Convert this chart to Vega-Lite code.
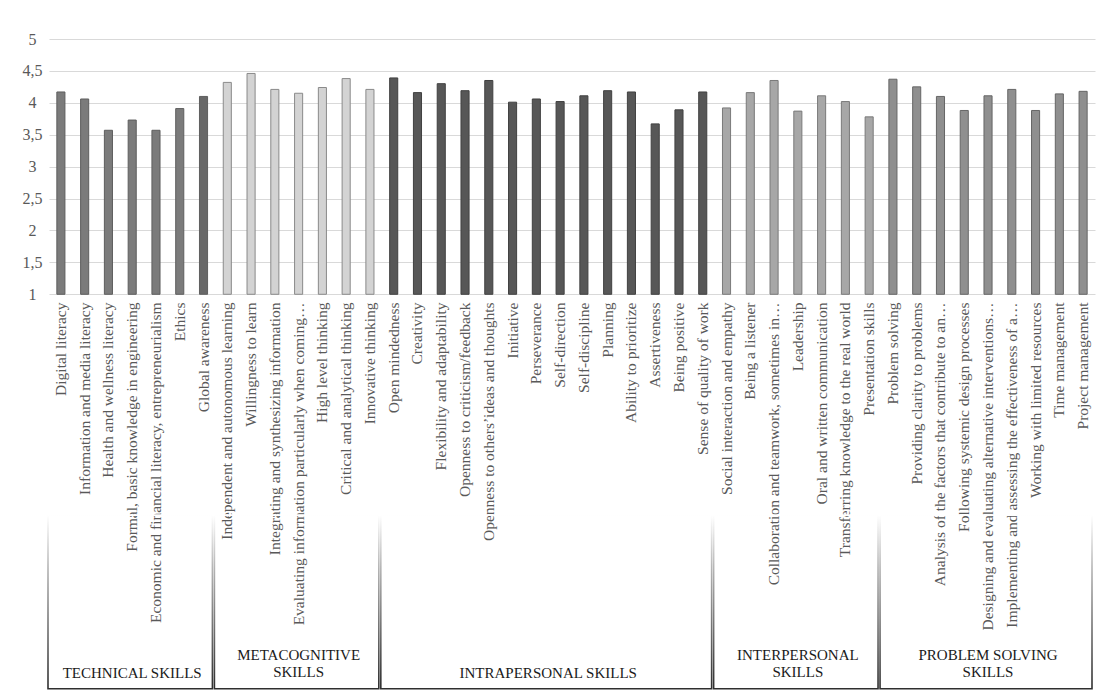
{
  "$schema": "https://vega.github.io/schema/vega-lite/v6.json",
  "width": 1046,
  "height": 651,
  "autosize": {"type": "none"},
  "padding": {"left": 49, "top": 39, "right": 3, "bottom": 4},
  "background": "#ffffff",
  "config": {
    "view": {"stroke": null},
    "font": "Liberation Serif",
    "axis": {"labelFont": "Liberation Serif", "labelColor": "#595959", "title": null, "domain": false, "ticks": false},
    "text": {"font": "Liberation Serif"}
  },
  "datasets": {
    "skills": [
      {"skill": "Digital literacy", "group": "Technical", "value": 4.17},
      {"skill": "Information and media literacy", "group": "Technical", "value": 4.06},
      {"skill": "Health and wellness literacy", "group": "Technical", "value": 3.57},
      {"skill": "Formal, basic knowledge in engineering", "group": "Technical", "value": 3.73},
      {"skill": "Economic and financial literacy, entrepreneurialism", "group": "Technical", "value": 3.57},
      {"skill": "Ethics", "group": "Technical", "value": 3.91},
      {"skill": "Global awareness", "group": "Technical", "value": 4.10},
      {"skill": "Independent and autonomous learning", "group": "Metacognitive", "value": 4.32},
      {"skill": "Willingness to learn", "group": "Metacognitive", "value": 4.46},
      {"skill": "Integrating and synthesizing information", "group": "Metacognitive", "value": 4.21},
      {"skill": "Evaluating information particularly when coming…", "group": "Metacognitive", "value": 4.15},
      {"skill": "High level thinking", "group": "Metacognitive", "value": 4.24},
      {"skill": "Critical and analytical thinking", "group": "Metacognitive", "value": 4.38},
      {"skill": "Innovative thinking", "group": "Metacognitive", "value": 4.21},
      {"skill": "Open mindedness", "group": "Intrapersonal", "value": 4.39},
      {"skill": "Creativity", "group": "Intrapersonal", "value": 4.16},
      {"skill": "Flexibility and adaptability", "group": "Intrapersonal", "value": 4.30},
      {"skill": "Openness to criticism/feedback", "group": "Intrapersonal", "value": 4.19},
      {"skill": "Openness to others’ideas and thoughts", "group": "Intrapersonal", "value": 4.35},
      {"skill": "Initiative", "group": "Intrapersonal", "value": 4.01},
      {"skill": "Perseverance", "group": "Intrapersonal", "value": 4.06},
      {"skill": "Self-direction", "group": "Intrapersonal", "value": 4.02},
      {"skill": "Self-discipline", "group": "Intrapersonal", "value": 4.11},
      {"skill": "Planning", "group": "Intrapersonal", "value": 4.19},
      {"skill": "Ability to prioritize", "group": "Intrapersonal", "value": 4.17},
      {"skill": "Assertiveness", "group": "Intrapersonal", "value": 3.67},
      {"skill": "Being positive", "group": "Intrapersonal", "value": 3.89},
      {"skill": "Sense of quality of work", "group": "Intrapersonal", "value": 4.17},
      {"skill": "Social interaction and empathy", "group": "Interpersonal", "value": 3.92},
      {"skill": "Being a listener", "group": "Interpersonal", "value": 4.16},
      {"skill": "Collaboration and teamwork, sometimes in…", "group": "Interpersonal", "value": 4.35},
      {"skill": "Leadership", "group": "Interpersonal", "value": 3.87},
      {"skill": "Oral and written communication", "group": "Interpersonal", "value": 4.11},
      {"skill": "Transferring knowledge to the real world", "group": "Interpersonal", "value": 4.02},
      {"skill": "Presentation skills", "group": "Interpersonal", "value": 3.78},
      {"skill": "Problem solving", "group": "Problem solving", "value": 4.37},
      {"skill": "Providing clarity to problems", "group": "Problem solving", "value": 4.25},
      {"skill": "Analysis of the factors that contribute to an…", "group": "Problem solving", "value": 4.10},
      {"skill": "Following systemic design processes", "group": "Problem solving", "value": 3.88},
      {"skill": "Designing and evaluating alternative interventions…", "group": "Problem solving", "value": 4.11},
      {"skill": "Implementing and assessing the effectiveness of a…", "group": "Problem solving", "value": 4.21},
      {"skill": "Working with limited resources", "group": "Problem solving", "value": 3.88},
      {"skill": "Time management", "group": "Problem solving", "value": 4.14},
      {"skill": "Project management", "group": "Problem solving", "value": 4.18}
    ],
    "groups": [
      {"name": "TECHNICAL SKILLS", "label": ["TECHNICAL SKILLS"], "first": "Digital literacy", "last": "Global awareness", "mid": "Formal, basic knowledge in engineering"},
      {"name": "METACOGNITIVE SKILLS", "label": ["METACOGNITIVE", "SKILLS"], "first": "Independent and autonomous learning", "last": "Innovative thinking", "mid": "Evaluating information particularly when coming…"},
      {"name": "INTRAPERSONAL SKILLS", "label": ["INTRAPERSONAL SKILLS"], "first": "Open mindedness", "last": "Sense of quality of work", "mid": "Perseverance"},
      {"name": "INTERPERSONAL SKILLS", "label": ["INTERPERSONAL", "SKILLS"], "first": "Social interaction and empathy", "last": "Presentation skills", "mid": "Leadership"},
      {"name": "PROBLEM SOLVING SKILLS", "label": ["PROBLEM SOLVING", "SKILLS"], "first": "Problem solving", "last": "Project management", "mid": "Designing and evaluating alternative interventions…"}
    ]
  },
  "layer": [
    {
      "data": {"name": "skills"},
      "mark": {"type": "bar", "width": {"band": 0.34}, "strokeWidth": 1},
      "encoding": {
        "x": {
          "field": "skill",
          "type": "nominal",
          "sort": null,
          "scale": {
            "paddingInner": 0,
            "paddingOuter": 0,
            "domain": [
              "Digital literacy", "Information and media literacy", "Health and wellness literacy", "Formal, basic knowledge in engineering", "Economic and financial literacy, entrepreneurialism", "Ethics", "Global awareness",
              "Independent and autonomous learning", "Willingness to learn", "Integrating and synthesizing information", "Evaluating information particularly when coming…", "High level thinking", "Critical and analytical thinking", "Innovative thinking",
              "Open mindedness", "Creativity", "Flexibility and adaptability", "Openness to criticism/feedback", "Openness to others’ideas and thoughts", "Initiative", "Perseverance", "Self-direction", "Self-discipline", "Planning", "Ability to prioritize", "Assertiveness", "Being positive", "Sense of quality of work",
              "Social interaction and empathy", "Being a listener", "Collaboration and teamwork, sometimes in…", "Leadership", "Oral and written communication", "Transferring knowledge to the real world", "Presentation skills",
              "Problem solving", "Providing clarity to problems", "Analysis of the factors that contribute to an…", "Following systemic design processes", "Designing and evaluating alternative interventions…", "Implementing and assessing the effectiveness of a…", "Working with limited resources", "Time management", "Project management"
            ]
          },
          "axis": {
            "title": null,
            "orient": "bottom",
            "offset": -396,
            "domain": false,
            "ticks": false,
            "grid": false,
            "labelAngle": -90,
            "labelAlign": "right",
            "labelBaseline": "middle",
            "labelPadding": 8,
            "labelFont": "Liberation Serif",
            "labelFontSize": 15.5,
            "labelColor": "#595959",
            "labelLimit": 400,
            "labelOverlap": false,
            "labelBound": false
          }
        },
        "y": {
          "field": "value",
          "type": "quantitative",
          "scale": {"domain": [-5.2, 5], "nice": false, "zero": false},
          "axis": {
            "title": null,
            "values": [1, 1.5, 2, 2.5, 3, 3.5, 4, 4.5, 5],
            "labelExpr": "replace(format(datum.value, '~g'), '.', ',')",
            "domain": false,
            "ticks": false,
            "grid": true,
            "gridColor": "#d9d9d9",
            "gridWidth": 1.2,
            "labelAlign": "center",
            "labelPadding": 17,
            "labelFont": "Liberation Serif",
            "labelFontSize": 16,
            "labelColor": "#595959"
          }
        },
        "y2": {"datum": 1},
        "color": {
          "condition": {"test": "datum.skill === 'Global awareness'", "value": "#686868"},
          "field": "group",
          "type": "nominal",
          "scale": {
            "domain": ["Technical", "Metacognitive", "Intrapersonal", "Interpersonal", "Problem solving"],
            "range": ["#7b7b7b", "#d3d3d3", "#575757", "#a7a7a7", "#8f8f8f"]
          },
          "legend": null
        },
        "stroke": {
          "field": "group",
          "type": "nominal",
          "scale": {
            "domain": ["Technical", "Metacognitive", "Intrapersonal", "Interpersonal", "Problem solving"],
            "range": ["#5e5e5e", "#8a8a8a", "#404040", "#7a7a7a", "#666666"]
          },
          "legend": null
        }
      }
    },
    {
      "data": {"name": "groups"},
      "mark": {
        "type": "rect",
        "filled": false,
        "fill": null,
        "strokeWidth": 1.6,
        "xOffset": -1,
        "x2Offset": -3,
        "stroke": {
          "gradient": "linear",
          "x1": 0, "y1": 0, "x2": 0, "y2": 1,
          "stops": [
            {"offset": 0, "color": "#ffffff"},
            {"offset": 0.3, "color": "#b5b5b5"},
            {"offset": 1, "color": "#2e2e2e"}
          ]
        }
      },
      "encoding": {
        "x": {"field": "first", "type": "nominal", "bandPosition": 0},
        "x2": {"field": "last", "bandPosition": 1},
        "y": {"datum": -2.46, "type": "quantitative"},
        "y2": {"datum": -5.18}
      }
    },
    {
      "data": {"name": "groups"},
      "transform": [{"filter": "datum.name === 'TECHNICAL SKILLS'"}],
      "mark": {"type": "text", "font": "Liberation Serif", "fontSize": 15, "color": "#1a1a1a", "baseline": "middle", "align": "center"},
      "encoding": {
        "x": {"field": "mid", "type": "nominal", "bandPosition": 0.5},
        "y": {"datum": -4.934, "type": "quantitative"},
        "text": {"field": "label"}
      }
    },
    {
      "data": {"name": "groups"},
      "transform": [{"filter": "datum.name === 'INTRAPERSONAL SKILLS'"}],
      "mark": {"type": "text", "font": "Liberation Serif", "fontSize": 15, "color": "#1a1a1a", "baseline": "middle", "align": "center"},
      "encoding": {
        "x": {"field": "mid", "type": "nominal", "bandPosition": 1},
        "y": {"datum": -4.934, "type": "quantitative"},
        "text": {"field": "label"}
      }
    },
    {
      "data": {"name": "groups"},
      "transform": [{"filter": "datum.name !== 'TECHNICAL SKILLS' && datum.name !== 'INTRAPERSONAL SKILLS'"}],
      "mark": {"type": "text", "font": "Liberation Serif", "fontSize": 15, "color": "#1a1a1a", "baseline": "middle", "align": "center", "lineHeight": 17},
      "encoding": {
        "x": {"field": "mid", "type": "nominal", "bandPosition": 0.5},
        "y": {"datum": -4.652, "type": "quantitative"},
        "text": {"field": "label"}
      }
    }
  ]
}
